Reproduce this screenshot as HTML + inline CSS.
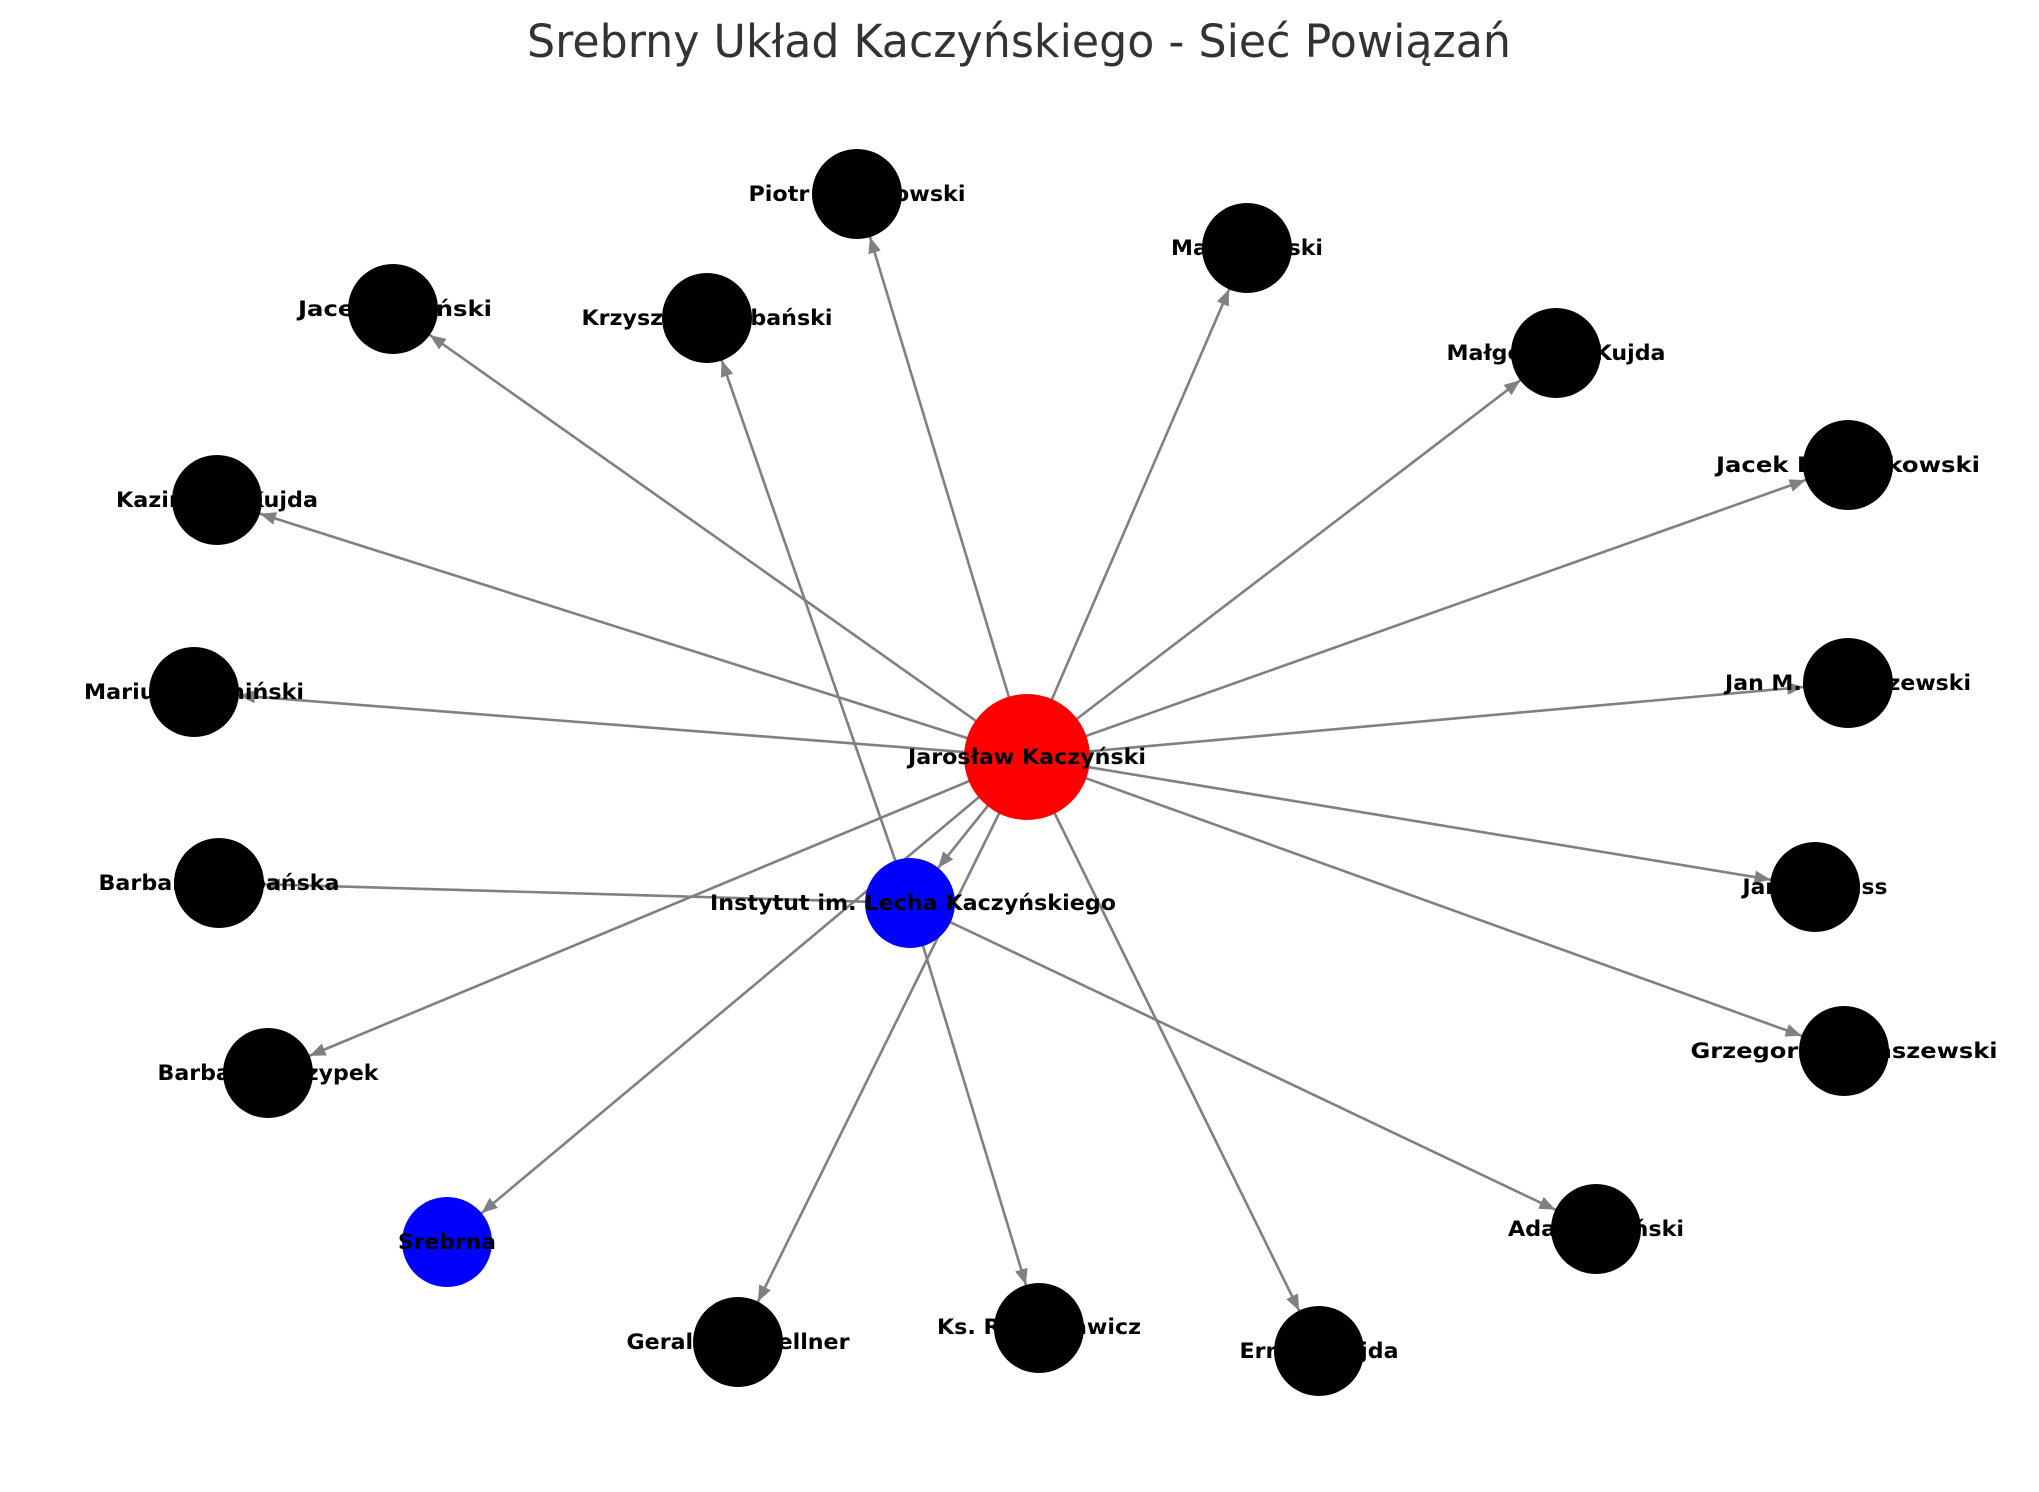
<!DOCTYPE html>
<html><head><meta charset="utf-8"><style>
html,body{margin:0;padding:0;background:#fff;}
svg{display:block;}
text{font-family:"DejaVu Sans","Liberation Sans",sans-serif;}
.l{font-weight:bold;font-size:21px;fill:#000;text-anchor:middle;}
</style></head><body>
<svg width="2039" height="1492" viewBox="0 0 2039 1492" xmlns="http://www.w3.org/2000/svg">
<defs>
<marker id="a" markerUnits="userSpaceOnUse" markerWidth="70" markerHeight="14" refX="61" refY="6.5" orient="auto"><path d="M0,0 L16,6.5 L0,13 z" fill="#808080"/></marker>
</defs>
<text x="1019" y="57" font-size="45" fill="#333" text-anchor="middle" textLength="984" lengthAdjust="spacingAndGlyphs">Srebrny Układ Kaczyńskiego - Sieć Powiązań</text>
<g stroke="#808080" stroke-width="2.6" marker-end="url(#a)">
<line x1="1027" y1="757" x2="910" y2="903"/>
<line x1="1027" y1="757" x2="447" y2="1242"/>
<line x1="1027" y1="757" x2="857" y2="194"/>
<line x1="1027" y1="757" x2="1247" y2="248"/>
<line x1="1027" y1="757" x2="393" y2="309"/>
<line x1="1027" y1="757" x2="1556" y2="353"/>
<line x1="1027" y1="757" x2="1848" y2="465"/>
<line x1="1027" y1="757" x2="217" y2="500"/>
<line x1="1027" y1="757" x2="194" y2="692"/>
<line x1="1027" y1="757" x2="1848" y2="683"/>
<line x1="1027" y1="757" x2="1815" y2="887"/>
<line x1="1027" y1="757" x2="268" y2="1073"/>
<line x1="1027" y1="757" x2="1844" y2="1051"/>
<line x1="1027" y1="757" x2="738" y2="1342"/>
<line x1="1027" y1="757" x2="1319" y2="1351"/>
<line x1="910" y1="903" x2="707" y2="318"/>
<line x1="910" y1="903" x2="219" y2="883"/>
<line x1="910" y1="903" x2="1039" y2="1328"/>
<line x1="910" y1="903" x2="1596" y2="1229"/>
</g>
<circle cx="1027" cy="757" r="63" fill="#f00"/>
<circle cx="910" cy="903" r="45" fill="#00f"/>
<circle cx="447" cy="1242" r="45" fill="#00f"/>
<g fill="#000">
<circle cx="857" cy="194" r="45"/><circle cx="1247" cy="248" r="45"/><circle cx="393" cy="309" r="45"/>
<circle cx="707" cy="318" r="45"/><circle cx="1556" cy="353" r="45"/><circle cx="1848" cy="465" r="45"/>
<circle cx="217" cy="500" r="45"/><circle cx="194" cy="692" r="45"/><circle cx="1848" cy="683" r="45"/>
<circle cx="219" cy="883" r="45"/><circle cx="1815" cy="887" r="45"/><circle cx="268" cy="1073" r="45"/>
<circle cx="1844" cy="1051" r="45"/><circle cx="1596" cy="1229" r="45"/><circle cx="738" cy="1342" r="45"/>
<circle cx="1039" cy="1328" r="45"/><circle cx="1319" cy="1351" r="45"/>
</g>
<text class="l" x="1027" y="764" textLength="238" lengthAdjust="spacingAndGlyphs">Jarosław Kaczyński</text>
<text class="l" x="913" y="910" textLength="406" lengthAdjust="spacingAndGlyphs">Instytut im. Lecha Kaczyńskiego</text>
<text class="l" x="447" y="1249" textLength="98" lengthAdjust="spacingAndGlyphs">Srebrna</text>
<text class="l" x="857" y="201" textLength="217" lengthAdjust="spacingAndGlyphs">Piotr Matusowski</text>
<text class="l" x="1247" y="255" textLength="152" lengthAdjust="spacingAndGlyphs">Marek Suski</text>
<text class="l" x="395" y="316" textLength="194" lengthAdjust="spacingAndGlyphs">Jacek Sasiński</text>
<text class="l" x="707" y="325" textLength="251" lengthAdjust="spacingAndGlyphs">Krzysztof Czabański</text>
<text class="l" x="1556" y="360" textLength="219" lengthAdjust="spacingAndGlyphs">Małgorzata Kujda</text>
<text class="l" x="1848" y="472" textLength="264" lengthAdjust="spacingAndGlyphs">Jacek M. Rutkowski</text>
<text class="l" x="217" y="507" textLength="202" lengthAdjust="spacingAndGlyphs">Kazimierz Kujda</text>
<text class="l" x="194" y="699" textLength="220" lengthAdjust="spacingAndGlyphs">Mariusz Kamiński</text>
<text class="l" x="1848" y="690" textLength="246" lengthAdjust="spacingAndGlyphs">Jan M. Tomaszewski</text>
<text class="l" x="219" y="890" textLength="241" lengthAdjust="spacingAndGlyphs">Barbara Czabańska</text>
<text class="l" x="1815" y="894" textLength="145" lengthAdjust="spacingAndGlyphs">Janusz Kuss</text>
<text class="l" x="268" y="1080" textLength="221" lengthAdjust="spacingAndGlyphs">Barbara Skrzypek</text>
<text class="l" x="1844" y="1058" textLength="307" lengthAdjust="spacingAndGlyphs">Grzegorz Tomaszewski</text>
<text class="l" x="1596" y="1236" textLength="176" lengthAdjust="spacingAndGlyphs">Adam Lipiński</text>
<text class="l" x="738" y="1349" textLength="223" lengthAdjust="spacingAndGlyphs">Gerald Birgfellner</text>
<text class="l" x="1039" y="1334" textLength="204" lengthAdjust="spacingAndGlyphs">Ks. Rafał Sawicz</text>
<text class="l" x="1319" y="1358" textLength="159" lengthAdjust="spacingAndGlyphs">Ernest Kujda</text>
</svg>
</body></html>
